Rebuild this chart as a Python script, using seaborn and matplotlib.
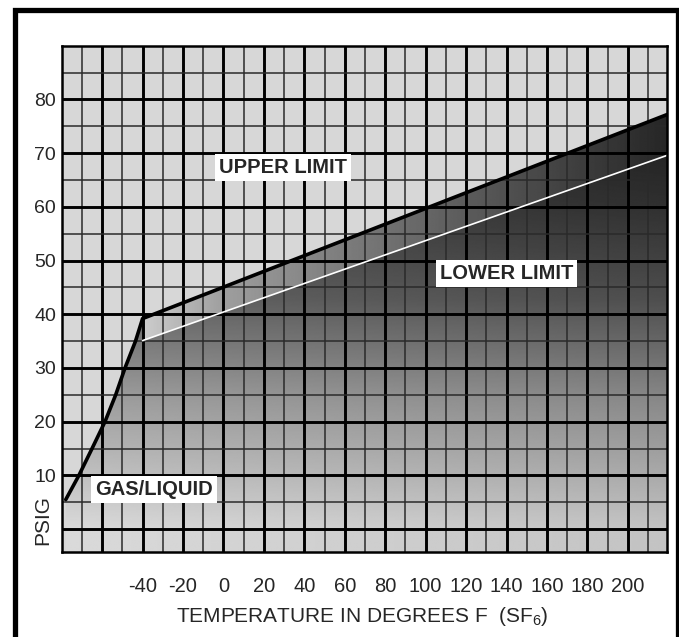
import numpy as np
import pandas as pd
import matplotlib
matplotlib.use("Agg")
import matplotlib.pyplot as plt
from matplotlib.lines import Line2D
from matplotlib.patches import Polygon
import seaborn as sns

# ---- data ----
curve_temp = [-78, -71.5, -65, -58.6, -53.3, -48.7, -43.5, -40]
curve_psig = [5.5, 10, 15, 20, 25, 30, 35, 39.2]
upper_temp = [-40, 219.5]
upper_psig = [39.2, 77.2]
lower_temp = [-40, 219.5]
lower_psig = [35.1, 69.6]

xtick_vals = [-40, -20, 0, 20, 40, 60, 80, 100, 120, 140, 160, 180, 200]
ytick_vals = [10, 20, 30, 40, 50, 60, 70, 80]

labels = {
    "UPPER LIMIT": (29.5, 67.3),
    "LOWER LIMIT": (140.1, 47.6),
    "GAS/LIQUID": (-34.2, 7.3),
}

XMIN, XMAX = -80, 219.5
YMIN, YMAX = -4.2, 90

sns.set_style("white")
fam = ["Liberation Sans", "DejaVu Sans"]
plt.rcParams["font.family"] = fam
plt.rcParams["mathtext.fontset"] = "custom"
plt.rcParams["mathtext.rm"] = "Liberation Sans"
plt.rcParams["mathtext.it"] = "Liberation Sans"

W, H = 679, 637
fig = plt.figure(figsize=(W / 100, H / 100), dpi=100)
ax = fig.add_axes([61.7 / W, (H - 551.7) / H, (667.3 - 61.7) / W, (551.7 - 45.7) / H])
ax.set_facecolor("#d7d7d7")
ax.set_xlim(XMIN, XMAX)
ax.set_ylim(YMIN, YMAX)

# ---- gradient shading under the upper limit ----
full_t = curve_temp + upper_temp[1:]
full_p = curve_psig + upper_psig[1:]
poly_pts = list(zip(full_t, full_p)) + [(XMAX, YMIN), (curve_temp[0], YMIN)]
region = Polygon(poly_pts, closed=True, facecolor="none", edgecolor="none")
ax.add_patch(region)

gx = np.linspace(XMIN, XMAX, 600)
gy = np.linspace(YMIN, YMAX, 400)
GX, GY = np.meshgrid(gx, gy)
v = np.interp(GY, [0, 8, 24, 43, 61, 75], [0.77, 0.69, 0.54, 0.31, 0.19, 0.13]) + 0.0003 * (200 - GX)
v = np.clip(v, 0, 1)
im = ax.imshow(v, extent=[XMIN, XMAX, YMIN, YMAX], origin="lower", cmap="gray",
               vmin=0, vmax=1, aspect="auto", zorder=1, interpolation="bilinear")
im.set_clip_path(region)

band_pts = [(upper_temp[0], upper_psig[0]), (upper_temp[1], upper_psig[1]),
            (lower_temp[1], lower_psig[1]), (lower_temp[0], lower_psig[0])]
band = Polygon(band_pts, closed=True, facecolor="none", edgecolor="none")
ax.add_patch(band)
vb = np.interp(GX, [-40, 0, 100, 220], [0.80, 0.62, 0.40, 0.15])
imb = ax.imshow(vb, extent=[XMIN, XMAX, YMIN, YMAX], origin="lower", cmap="gray",
                vmin=0, vmax=1, aspect="auto", zorder=1.1, interpolation="bilinear")
imb.set_clip_path(band)

# ---- grid ----
for xv in np.arange(-70, 220, 10):
    thick = (xv % 20 == 0)
    ax.axvline(xv, color="black" if thick else "#2a2a2a", lw=2.1 if thick else 1.1, zorder=2)
for yv in np.arange(0, 90, 5):
    thick = (yv % 10 == 0)
    ax.axhline(yv, color="black" if thick else "#2a2a2a", lw=2.1 if thick else 1.1, zorder=2)

# ---- limit lines ----
df_up = pd.DataFrame({"temp": full_t, "psig": full_p})
df_lo = pd.DataFrame({"temp": lower_temp, "psig": lower_psig})
sns.lineplot(data=df_lo, x="temp", y="psig", ax=ax, color="white", lw=1.2, sort=False, zorder=3)
sns.lineplot(data=df_up, x="temp", y="psig", ax=ax, color="black", lw=2.6, sort=False, zorder=3.5)

for txt, (tx, ty) in labels.items():
    ax.text(tx, ty, txt, ha="center", va="center", fontsize=14.5, fontweight="bold",
            family=fam, zorder=5,
            bbox=dict(boxstyle="square,pad=0.2", fc="white", ec="none"))

# ---- axes styling ----
ax.set_xticks(xtick_vals)
ax.set_xticklabels([str(t) for t in xtick_vals], fontsize=14.5)
ax.set_yticks(ytick_vals)
ax.set_yticklabels([str(t) for t in ytick_vals], fontsize=14)
ax.tick_params(axis="x", length=0, pad=18)
ax.tick_params(axis="y", length=0, pad=4)
ax.set_xlabel("")
ax.set_ylabel("")
for s in ax.spines.values():
    s.set_visible(True)
    s.set_color("black")
    s.set_linewidth(1.8)
    s.set_zorder(6)

fig.text(362 / W, (H - 617) / H, r"TEMPERATURE IN DEGREES F  (SF$_{6}$)", ha="center", va="center",
         fontsize=15)
fig.text(42.5 / W, (H - 545) / H, "PSIG", rotation=90, ha="center", va="bottom", fontsize=15)

# ---- outer frame (left, top, right) ----
def px(x, y):
    return (x / W, (H - y) / H)

fx = [px(14.5, 640)[0], px(14.5, 9.5)[0], px(677.5, 9.5)[0], px(677.5, 640)[0]]
fy = [px(14.5, 640)[1], px(14.5, 9.5)[1], px(677.5, 9.5)[1], px(677.5, 640)[1]]
fig.add_artist(Line2D(fx, fy, transform=fig.transFigure, color="black", lw=3.8,
                      solid_joinstyle="miter"))

fig.savefig("out.png", dpi=100, facecolor="white")
